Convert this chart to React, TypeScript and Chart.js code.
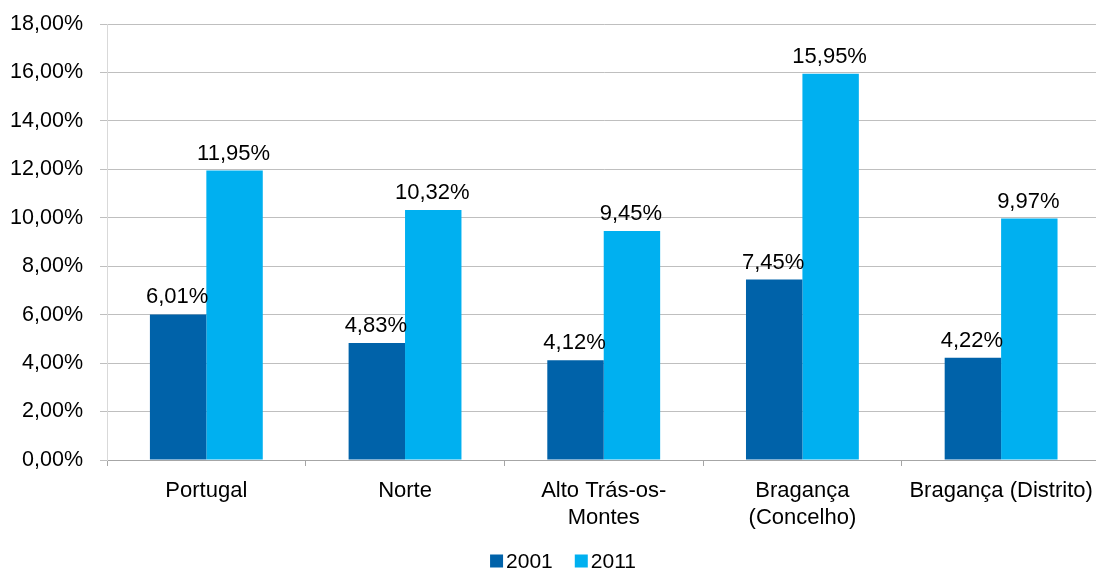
import React, { useEffect, useRef } from "react";
import { Chart, registerables } from "chart.js";

Chart.register(...registerables);

const categories: (string | string[])[] = [
  "Portugal",
  "Norte",
  ["Alto Trás-os-", "Montes"],
  ["Bragança", "(Concelho)"],
  "Bragança (Distrito)",
];
const seriesNames = ["2001", "2011"];
const values2001 = [6.01, 4.83, 4.12, 7.45, 4.22];
const values2011 = [11.95, 10.32, 9.45, 15.95, 9.97];
const yTicks = [0, 2, 4, 6, 8, 10, 12, 14, 16, 18];

const DARK = "#0062A9";
const LIGHT = "#00B0F0";
const FONT = "'Liberation Sans', Arial, sans-serif";

const CANVAS_W = 1104;
const CANVAS_H = 572;

const fmt = (v: number) => v.toFixed(2).replace(".", ",") + "%";

// Draws each bar's value above it
const valueLabels = {
  id: "valueLabels",
  afterDatasetsDraw(chart: any) {
    const ctx = chart.ctx;
    ctx.save();
    ctx.font = `22px ${FONT}`;
    ctx.fillStyle = "#000";
    ctx.textAlign = "center";
    ctx.textBaseline = "alphabetic";
    chart.data.datasets.forEach((ds: any, i: number) => {
      const meta = chart.getDatasetMeta(i);
      meta.data.forEach((bar: any, j: number) => {
        ctx.fillText(fmt(ds.data[j]), bar.x - 1, bar.y - 11);
      });
    });
    ctx.restore();
  },
};

// Compact legend along the bottom: small square, tight gap, label
const bottomLegend = {
  id: "bottomLegend",
  afterDraw(chart: any) {
    const ctx = chart.ctx;
    const box = 13;
    const gap = 3;
    const itemGap = 22;
    ctx.save();
    ctx.font = `21px ${FONT}`;
    ctx.textBaseline = "middle";
    ctx.textAlign = "left";
    const items = chart.data.datasets.map((ds: any) => ({
      label: ds.label,
      color: ds.backgroundColor,
      w: box + gap + ctx.measureText(ds.label).width,
    }));
    const total =
      items.reduce((s: number, it: any) => s + it.w, 0) + itemGap * (items.length - 1);
    let x = chart.width / 2 + 11 - total / 2;
    const cy = chart.height - 11;
    items.forEach((it: any) => {
      ctx.fillStyle = it.color;
      ctx.fillRect(x, cy - box / 2, box, box);
      ctx.fillStyle = "#000";
      ctx.fillText(it.label, x + box + gap, cy + 1);
      x += it.w + itemGap;
    });
    ctx.restore();
  },
};

export default function App() {
  const ref = useRef<HTMLCanvasElement>(null);

  useEffect(() => {
    if (!ref.current) return;
    const chart = new Chart(ref.current, {
      type: "bar",
      data: {
        labels: categories,
        datasets: [
          { label: seriesNames[0], data: values2001, backgroundColor: DARK },
          { label: seriesNames[1], data: values2011, backgroundColor: LIGHT },
        ],
      },
      options: {
        responsive: false,
        animation: false,
        layout: { padding: { left: 10, right: 2, top: 24, bottom: 40 } },
        datasets: {
          bar: { categoryPercentage: 0.568, barPercentage: 1.0 },
        },
        plugins: {
          legend: { display: false },
          tooltip: { enabled: false },
        },
        scales: {
          x: {
            afterFit: (axis: any) => {
              axis.height = 72;
            },
            grid: {
              display: true,
              drawOnChartArea: false,
              drawTicks: true,
              tickLength: 6,
              offset: true,
              color: "#A6A6A6",
            },
            border: { color: "#A6A6A6", width: 1 },
            ticks: {
              font: { family: FONT, size: 22, lineHeight: 1.23 },
              color: "#000",
              padding: 11,
              maxRotation: 0,
              autoSkip: false,
            },
          },
          y: {
            min: 0,
            max: 18,
            afterBuildTicks: (axis: any) => {
              axis.ticks = yTicks.map((v) => ({ value: v }));
            },
            afterFit: (axis: any) => {
              axis.width = 97;
              axis.paddingTop = 0;
              axis.paddingBottom = 0;
            },
            grid: {
              color: "#BFBFBF",
              lineWidth: 1,
              tickLength: 7,
            },
            border: { color: "#D9D9D9", width: 1 },
            ticks: {
              font: { family: FONT, size: 21.5 },
              color: "#000",
              padding: 17,
              callback: (v: any) => fmt(Number(v)),
            },
          },
        },
      },
      plugins: [valueLabels, bottomLegend],
    });
    return () => chart.destroy();
  }, []);

  return (
    <div
      style={{
        position: "fixed",
        left: 0,
        top: 0,
        width: 1096,
        height: CANVAS_H,
        overflow: "hidden",
        background: "#fff",
      }}
    >
      <canvas ref={ref} width={CANVAS_W} height={CANVAS_H} />
    </div>
  );
}
